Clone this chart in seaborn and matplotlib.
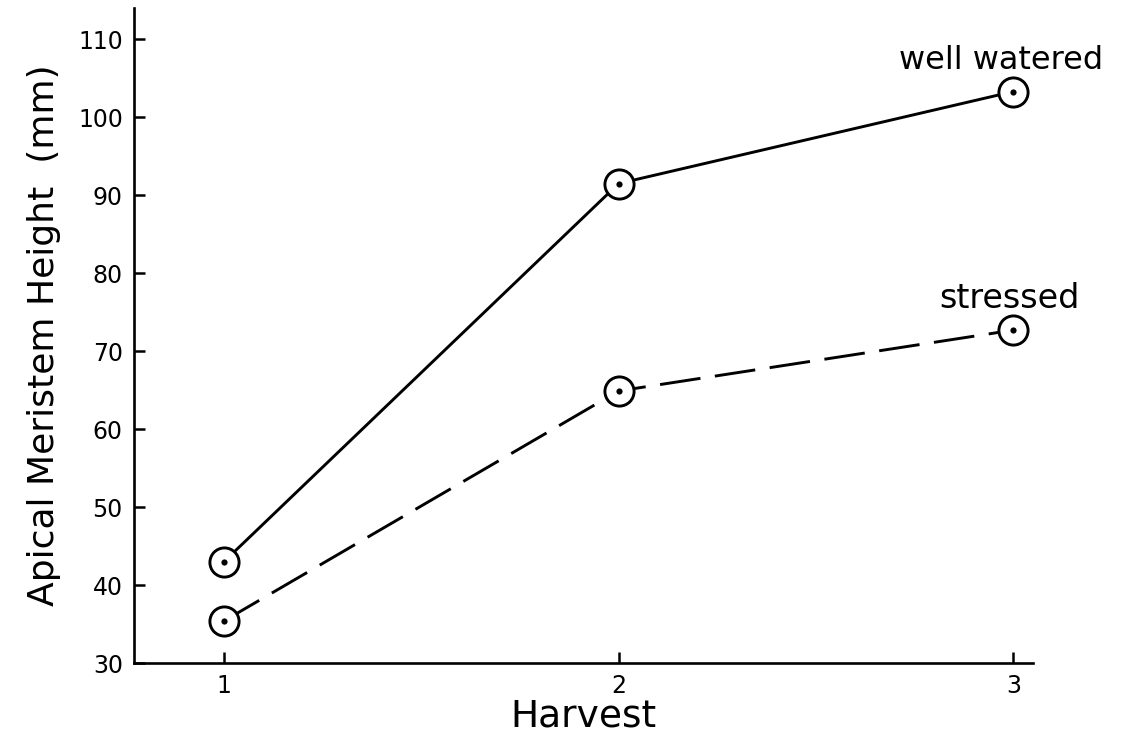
import pandas as pd
import numpy as np
import matplotlib
matplotlib.use("Agg")
import matplotlib.pyplot as plt
import seaborn as sns

harvest = [1, 2, 3]
well_watered = [43.0, 91.5, 103.3]
stressed = [35.4, 64.9, 72.7]
series_names = ["well watered", "stressed"]

df = pd.DataFrame({
    "Harvest": harvest * 2,
    "Height": well_watered + stressed,
    "Treatment": [series_names[0]] * 3 + [series_names[1]] * 3,
})

sns.set_style("ticks", {"text.color": "black", "axes.edgecolor": "black",
                        "xtick.color": "black", "ytick.color": "black",
                        "axes.labelcolor": "black"})
plt.rcParams["font.family"] = ["DejaVu Sans"]

fig = plt.figure(figsize=(11.22, 7.4), dpi=100)
ax = fig.add_axes([0.1194, 0.104, 0.8013, 0.885])

sns.lineplot(
    data=df, x="Harvest", y="Height", style="Treatment",
    dashes={"well watered": "", "stressed": (14, 5)},
    markers={"well watered": "o", "stressed": "o"},
    color="black", linewidth=2.1, markersize=21,
    markerfacecolor="white", markeredgecolor="black", markeredgewidth=2.1,
    legend=False, ax=ax,
)
sns.scatterplot(data=df, x="Harvest", y="Height", color="black", s=20,
                linewidth=0, legend=False, ax=ax, zorder=5)

ax.text(2.97, 107.3, "well watered", ha="center", va="center", fontsize=23)
ax.text(2.99, 76.8, "stressed", ha="center", va="center", fontsize=24)

ax.set_xlim(0.772, 3.05)
ax.set_ylim(30, 114)
ax.set_xticks(harvest)
ax.set_yticks(np.arange(30, 111, 10))
ax.tick_params(direction="in", length=8, width=1.8, labelsize=17, pad=8)
ax.set_xlabel("Harvest", fontsize=27, labelpad=0)
ax.set_ylabel("Apical Meristem Height  (mm)", fontsize=26, labelpad=12)

sns.despine(ax=ax)
for side in ["left", "bottom"]:
    ax.spines[side].set_linewidth(1.9)

fig.savefig("out.png", dpi=100)
